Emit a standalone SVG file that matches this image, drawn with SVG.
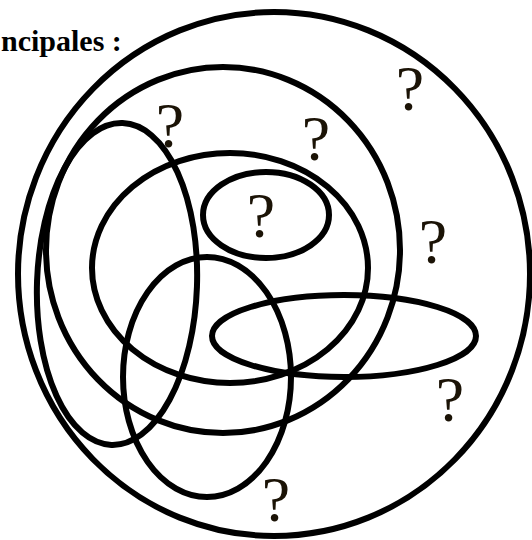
<svg xmlns="http://www.w3.org/2000/svg" width="532" height="540" viewBox="0 0 532 540">
<style>
.ring{fill:none;stroke:#000;stroke-width:6}
.q{font-family:"Liberation Serif","Times New Roman",serif;font-size:64px;fill:#1b1306;text-anchor:middle}
.title{font-family:"Liberation Serif","Times New Roman",serif;font-size:30px;font-weight:bold;fill:#000}
</style>
<rect width="532" height="540" fill="#fff"/>
<text class="title" x="1" y="51">ncipales :</text>
<g id="outer"><ellipse class="ring" cx="274" cy="274" rx="256" ry="262"/></g>
<g id="setB"><ellipse class="ring" cx="223" cy="250" rx="177" ry="183"/></g>
<g id="setC"><ellipse class="ring" cx="230" cy="268" rx="138" ry="115"/></g>
<g id="setD1"><ellipse class="ring" cx="117" cy="284" rx="80" ry="161" transform="rotate(2 117 284)"/></g>
<g id="setD2"><ellipse class="ring" cx="207" cy="377" rx="84" ry="120"/></g>
<g id="setE"><ellipse class="ring" cx="344" cy="336" rx="132" ry="41"/></g>
<g id="setF"><ellipse class="ring" cx="266" cy="215" rx="63" ry="43"/></g>
<g id="connectors"></g>
<g id="labels">
<text class="q" x="170" y="147">?</text>
<text class="q" x="410" y="110">?</text>
<text class="q" x="316" y="160">?</text>
<text class="q" x="261" y="237">?</text>
<text class="q" x="433" y="263">?</text>
<text class="q" x="450" y="421">?</text>
<text class="q" x="276" y="521">?</text>
</g>
</svg>
